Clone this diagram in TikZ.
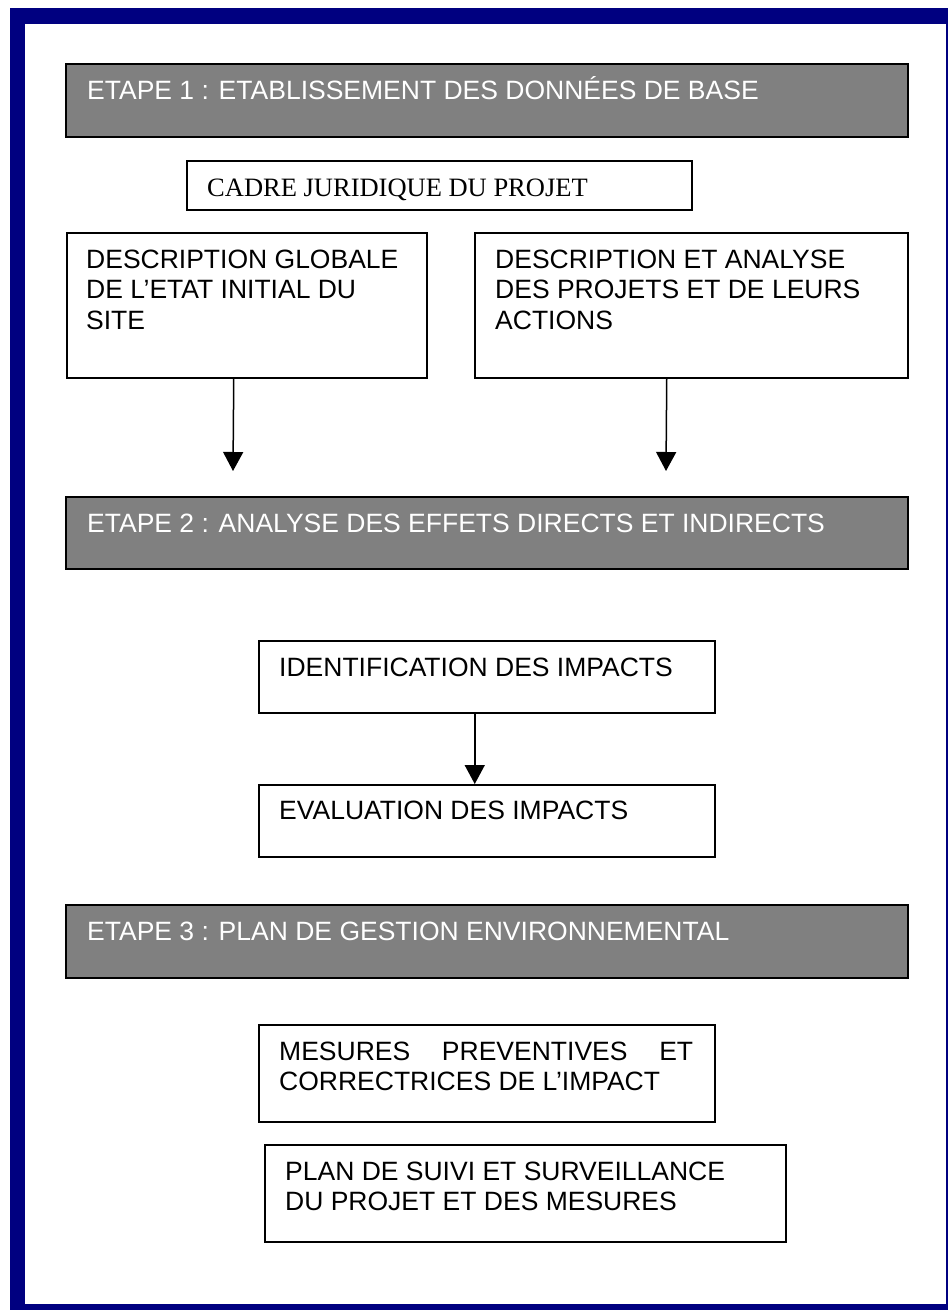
\documentclass[tikz,border=0pt]{standalone}
\usepackage{fontspec}
\setmainfont{Liberation Sans}
\newfontfamily\cadrefont{Liberation Serif}
\usetikzlibrary{calc}
\usetikzlibrary{arrows.meta}

\definecolor{frameblue}{RGB}{0,0,128}
\definecolor{etapegray}{RGB}{128,128,128}

\tikzset{
  etape/.style={draw=black,fill=etapegray,line width=1.5pt,minimum width=842pt,anchor=north west,inner sep=0pt},
  cadre/.style={draw=black,line width=1.5pt,anchor=north west,inner sep=0pt},
  etapetext/.style={anchor=base west,inner sep=0pt,text=white,font=\fontsize{26.5}{31}\selectfont},
  boxtext/.style={anchor=base west,inner sep=0pt,font=\fontsize{26.5}{31}\selectfont},
  multitext/.style={anchor=north west,inner sep=0pt,align=left,font=\fontsize{26.5}{30.5}\selectfont},
  arr/.style={line width=1.5pt,-{Triangle[width=20pt,length=19pt]}}
}

\begin{document}
\begin{tikzpicture}[x=1pt,y=-1pt]
\useasboundingbox (0,0) rectangle (948,1310);

\fill[frameblue] (10,8) rectangle (948,1310);
\fill[white] (25,24) rectangle (946,1304);

% etape 1
\node[etape,minimum height=73pt] (e1) at (65,63) {};
\node[etapetext] (e1t) at (87,99) {ETAPE 1 : ETABLISSEMENT DES DONNÉES DE BASE};

\node[cadre,minimum width=505pt,minimum height=49pt] (jur) at (186,160) {};
\node[boxtext,font=\cadrefont\fontsize{26.5}{31}\selectfont] (jurt) at (207,196) {CADRE JURIDIQUE DU PROJET};

\node[cadre,minimum width=360pt,minimum height=145pt] (ldesc) at (66,232) {};
\node[multitext] (ldesct) at (86,248) {\rule{0pt}{20pt}DESCRIPTION GLOBALE\\DE L’ETAT INITIAL DU\\SITE};

\node[cadre,minimum width=433pt,minimum height=145pt] (rdesc) at (474,232) {};
\node[multitext] (rdesct) at (495,248) {\rule{0pt}{20pt}DESCRIPTION ET ANALYSE\\DES PROJETS ET DE LEURS\\ACTIONS};

\coordinate (tipl) at (233,471);
\coordinate (tipr) at (666,471);
\draw[arr] ([xshift=-13pt]ldesc.south) -- (tipl);
\draw[arr] ([xshift=-24.5pt]rdesc.south) -- (tipr);

% etape 2
\node[etape,minimum height=72pt] (e2) at (65,496) {};
\node[etapetext] (e2t) at (87,532) {ETAPE 2 : ANALYSE DES EFFETS DIRECTS ET INDIRECTS};

\node[cadre,minimum width=456pt,minimum height=72pt] (ident) at (258,640) {};
\node[boxtext] (identt) at (279,676) {IDENTIFICATION DES IMPACTS};

\node[cadre,minimum width=456pt,minimum height=72pt] (eval) at (258,784) {};
\node[boxtext] (evalt) at (279,819) {EVALUATION DES IMPACTS};

\draw[arr] ([xshift=-12pt]ident.south) -- ([xshift=-12pt]eval.north);

% etape 3
\node[etape,minimum height=73pt] (e3) at (65,904) {};
\node[etapetext] (e3t) at (87,940) {ETAPE 3 : PLAN DE GESTION ENVIRONNEMENTAL};

\node[cadre,minimum width=456pt,minimum height=97pt] (mes) at (258,1024) {};
\node[multitext] (mest) at (279,1040) {\rule{0pt}{20pt}\makebox[414pt][s]{MESURES PREVENTIVES ET}\\CORRECTRICES DE L’IMPACT};

\node[cadre,minimum width=521pt,minimum height=97pt] (suivi) at (264,1144) {};
\node[multitext] (suivit) at (285,1160) {\rule{0pt}{20pt}PLAN DE SUIVI ET SURVEILLANCE\\DU PROJET ET DES MESURES};

\end{tikzpicture}
\end{document}
